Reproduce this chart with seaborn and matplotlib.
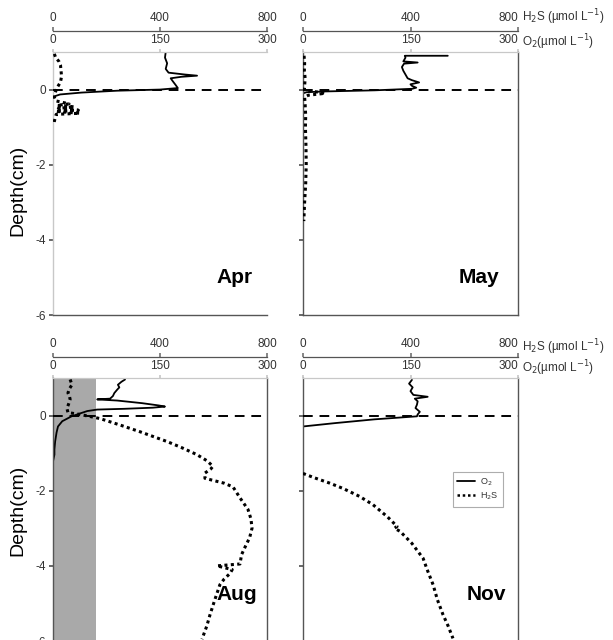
import matplotlib
matplotlib.use("Agg")
import matplotlib.pyplot as plt
from matplotlib.lines import Line2D
import seaborn as sns

sns.set_theme(style="white")
plt.rcParams["font.family"] = ["Liberation Sans", "DejaVu Sans"]
plt.rcParams["axes.unicode_minus"] = False

# ---------------- data (depth in cm, concentrations in umol/L) ----------------
apr_o2_depth = [1.0, 0.85, 0.7, 0.55, 0.45, 0.40, 0.37, 0.34, 0.30, 0.22, 0.12, 0.04, 0.0, -0.03, -0.08, -0.13, -0.18, -0.25]
apr_o2 = [158, 157, 160, 158, 162, 185, 202, 180, 165, 168, 172, 175, 150, 90, 40, 10, 2, 0]
apr_h2s_depth = [0.95, 0.85, 0.75, 0.65, 0.5, 0.35, 0.2, 0.08, 0.0, -0.1, -0.2, -0.3, -0.38, -0.42, -0.46, -0.5,
                 -0.55, -0.58, -0.63, -0.66, -0.75, -0.85, -0.95]
apr_h2s = [5, 10, 22, 28, 30, 32, 28, 18, 12, 8, 5, 10, 60, 15, 80, 20, 95, 10, 100, 12, 8, 5, 3]

may_o2_depth = [0.9, 0.9, 0.85, 0.75, 0.72, 0.69, 0.6, 0.5, 0.4, 0.3, 0.25, 0.19, 0.14, 0.1, 0.05, 0.02, -0.02,
                -0.05, -0.07, -0.1]
may_o2 = [202, 142, 143, 140, 160, 141, 138, 140, 143, 146, 152, 162, 150, 152, 158, 152, 100, 30, 5, 0]
may_h2s_depth = [0.9, 0.7, 0.5, 0.3, 0.1, 0.0, -0.05, -0.1, -0.15, -0.2, -0.4, -0.7, -1.0, -1.5, -2.0, -2.5, -3.0, -3.5]
may_h2s = [4, 6, 5, 8, 6, 4, 40, 82, 20, 6, 8, 10, 9, 11, 12, 10, 6, 3]

aug_o2_depth = [0.96, 0.9, 0.82, 0.75, 0.69, 0.6, 0.52, 0.45, 0.44, 0.43, 0.40, 0.33, 0.27, 0.24, 0.21, 0.18, 0.16,
                0.12, 0.07, 0.03, -0.02, -0.08, -0.15, -0.29, -0.45, -0.69, -0.9, -1.04, -1.22]
aug_o2 = [101, 96, 91, 93, 90, 86, 84, 80, 70, 62, 90, 125, 148, 157, 140, 100, 62, 48, 40, 34, 26, 20, 13, 7, 5, 3,
          2, 2, 0]
aug_h2s_depth = [0.96, 0.82, 0.7, 0.6, 0.5, 0.43, 0.3, 0.19, 0.08, 0.03, -0.08, -0.25, -0.43, -0.69, -0.85, -1.04,
                 -1.2, -1.35, -1.42, -1.53, -1.67, -1.8, -1.9, -2.2, -2.5, -2.75, -3.0, -3.25, -3.5, -3.7, -3.95,
                 -4.0, -4.1, -4.2, -4.35, -4.5, -4.9, -5.3, -5.6, -5.95]
aug_h2s = [64, 71, 60, 56, 62, 64, 58, 52, 56, 101, 176, 250, 325, 426, 480, 538, 575, 598, 590, 568, 568, 640, 673,
           700, 729, 740, 744, 735, 718, 705, 699, 613, 670, 662, 640, 624, 605, 587, 575, 557]

nov_o2_depth = [0.95, 0.85, 0.75, 0.65, 0.55, 0.5, 0.45, 0.38, 0.29, 0.2, 0.1, 0.03, -0.02, -0.1, -0.2, -0.29]
nov_o2 = [152, 148, 153, 150, 154, 174, 156, 160, 159, 157, 163, 160, 159, 100, 45, 0]
nov_h2s_depth = [-1.54, -1.65, -1.8, -1.94, -2.15, -2.37, -2.7, -2.95, -3.0, -3.08, -3.4, -3.8, -4.1, -4.5, -4.9,
                 -5.3, -5.6, -5.93]
nov_h2s = [0, 40, 100, 149, 210, 260, 315, 350, 340, 361, 405, 447, 462, 484, 500, 521, 540, 558]

months = ["Apr", "May", "Aug", "Nov"]
o2_ticks = [0, 150, 300]
h2s_ticks = [0, 400, 800]
depth_ticks = [0, -2, -4, -6]
aug_shade = [0, 60]  # O2 range shaded in Aug

# ---------------- figure ----------------
W, H = 613, 640
fig = plt.figure(figsize=(W / 100, H / 100), dpi=100)

TXT = "#333333"
SP = "#555555"
LIGHT = "#c8c8c8"

left_x, right_x = 53 / W, 303 / W
wl, wr = 214 / W, 215 / W
top_b, bot_b = 1 - 315 / H, 1 - 641 / H
ph = 263 / H

specs = [
    ("Apr", [left_x, top_b, wl, ph], apr_o2_depth, apr_o2, apr_h2s_depth, apr_h2s, True, (0.85, 0.144)),
    ("May", [right_x, top_b, wr, ph], may_o2_depth, may_o2, may_h2s_depth, may_h2s, False, (0.82, 0.144)),
    ("Aug", [left_x, bot_b, wl, ph], aug_o2_depth, aug_o2, aug_h2s_depth, aug_h2s, True, (0.86, 0.175)),
    ("Nov", [right_x, bot_b, wr, ph], nov_o2_depth, nov_o2, nov_h2s_depth, nov_h2s, False, (0.855, 0.175)),
]

axes = {}
for name, rect, od, ov, hd, hv, is_left, lab in specs:
    ax = fig.add_axes(rect)
    ax2 = ax.twiny()
    if name == "Aug":
        ax.axvspan(aug_shade[0], aug_shade[1], color="#a9a9a9", lw=0, zorder=0)
    sns.lineplot(x=ov, y=od, ax=ax, sort=False, estimator=None, color="black", lw=1.3)
    sns.lineplot(x=hv, y=hd, ax=ax2, sort=False, estimator=None, color="black", lw=2.2,
                 linestyle=(0, (1, 1.1)))
    ax2.axhline(0, color="black", lw=1.4, dashes=(5, 3.5), zorder=1)
    ax.set_xlim(0, 300)
    ax2.set_xlim(0, 800)
    ax.set_ylim(-6, 1)
    ax.set_xlabel("")
    ax.set_ylabel("")
    ax2.set_xlabel("")

    ax.xaxis.tick_top()
    ax.set_xticks(o2_ticks)
    ax.set_xticklabels([str(t) for t in o2_ticks])
    ax2.set_xticks(h2s_ticks)
    ax2.set_xticklabels([str(t) for t in h2s_ticks])
    ax.tick_params(axis="x", top=True, bottom=False, labeltop=True, labelbottom=False, length=2,
                   color=LIGHT, labelsize=8.5, labelcolor=TXT, pad=2)
    ax2.tick_params(axis="x", top=True, length=3, color="#777777", labelsize=8.5, labelcolor=TXT, pad=2)
    ax2.spines["top"].set_position(("outward", 21 * 0.72))
    ax2.spines["top"].set_color("#555555")
    ax2.spines["top"].set_linewidth(0.9)
    for s in ["left", "right", "bottom"]:
        ax2.spines[s].set_visible(False)

    ax.set_yticks(depth_ticks)
    ax.set_yticklabels([str(t) for t in depth_ticks])
    ax.tick_params(axis="y", left=True, length=3, color=SP, labelsize=8.5, labelcolor=TXT, pad=2,
                   labelleft=is_left)
    ax.spines["top"].set_color(LIGHT)
    ax.spines["top"].set_linewidth(0.9)
    ax.spines["bottom"].set_color(SP)
    ax.spines["left"].set_color(SP if name != "Apr" else LIGHT)
    ax.spines["right"].set_color(SP)
    if name == "Apr":
        ax.spines["right"].set_visible(False)
    for s in ["left", "right", "bottom"]:
        ax.spines[s].set_linewidth(1.0)

    if not is_left:
        for t in ax.get_xticklabels()[-1:] + ax2.get_xticklabels()[-1:]:
            t.set_ha("right")

    ax.text(lab[0], lab[1], name, transform=ax.transAxes, ha="center", va="center",
            fontsize=15, fontweight="bold", color="black")
    axes[name] = (ax, ax2)

# y-axis titles
fig.text(18 / W, 1 - 190 / H, "Depth(cm)", rotation=90, ha="center", va="center", fontsize=14, color="black")
fig.text(18 / W, 1 - 510 / H, "Depth(cm)", rotation=90, ha="center", va="center", fontsize=14, color="black")

# unit labels at right
for yh, yo in [(17, 42), (347, 368)]:
    fig.text(522 / W, 1 - yh / H, "H$_2$S (\u00b5mol L$^{-1}$)", ha="left", va="center", fontsize=8.5, color=TXT)
    fig.text(522 / W, 1 - yo / H, "O$_2$(\u00b5mol L$^{-1}$)", ha="left", va="center", fontsize=8.5, color=TXT)

# legend in Nov panel
nov_ax2 = axes["Nov"][1]
handles = [Line2D([], [], color="black", lw=1.3),
           Line2D([], [], color="black", lw=1.8, linestyle=(0, (1, 1.1)))]
leg = nov_ax2.legend(handles, ["O$_2$", "H$_2$S"], loc="upper left", bbox_to_anchor=(0.675, 0.66),
                     bbox_transform=axes["Nov"][0].transAxes, fontsize=6.5, frameon=True, fancybox=False,
                     handlelength=2.0, handletextpad=0.5, borderpad=0.5, labelspacing=0.3, edgecolor="#999999")
leg.get_frame().set_linewidth(0.8)
for t in leg.get_texts():
    t.set_color(TXT)

fig.savefig("out.png", dpi=100)
